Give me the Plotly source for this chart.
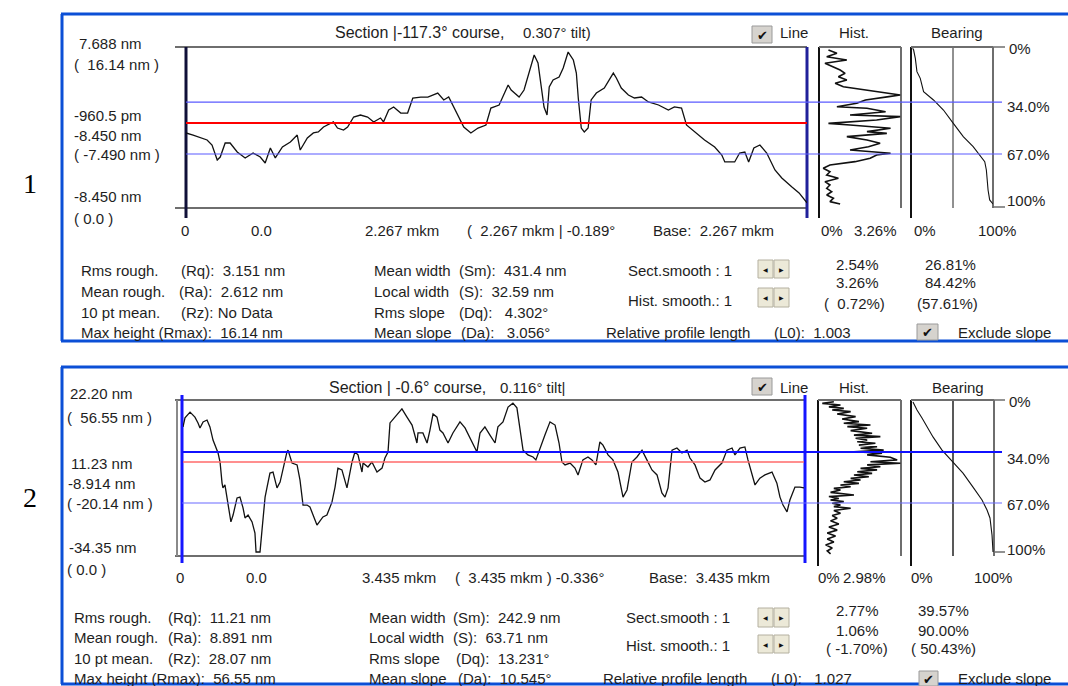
import plotly.graph_objects as go

W, H = 1068, 686

# ---------------- Section 1 profile (distance in nm, height in nm)
sec1_x = [0, 26, 77, 95, 114, 125, 143, 161, 187, 216,
          245, 271, 289, 308, 326, 352, 381, 406, 417, 443,
          465, 483, 502, 516, 538, 553, 575, 590, 612, 637,
          663, 685, 710, 721, 740, 758, 784, 809, 828, 857,
          883, 919, 941, 959, 978, 1003, 1014, 1040, 1066, 1095,
          1113, 1143, 1161, 1176, 1187, 1216, 1234, 1252, 1271, 1285,
          1296, 1307, 1318, 1326, 1340, 1362, 1377, 1395, 1414, 1425,
          1432, 1443, 1454, 1468, 1479, 1498, 1527, 1545, 1560, 1571,
          1589, 1615, 1637, 1663, 1688, 1725, 1761, 1783, 1809, 1827,
          1857, 1893, 1930, 1956, 1967, 2003, 2021, 2040, 2054, 2073,
          2095, 2120, 2150, 2175, 2212, 2238, 2267]
sec1_z = [-1.05, -1.27, -1.79, -2.32, -3.90, -3.59, -2.11, -2.11, -3.06, -3.69,
          -3.17, -3.59, -4.22, -2.64, -3.69, -2.53, -2.00, -1.27, -2.85, -1.58,
          -1.05, -0.95, -0.42, -0.21, 0.11, -0.53, -0.74, -0.42, 0.63, 0.84,
          0.63, 0.11, 0.53, 0.11, 1.37, 1.69, 1.05, 1.05, 2.64, 2.74,
          2.74, 3.16, 2.43, 2.74, 1.69, 0.32, -0.42, -1.05, -0.53, -0.21,
          1.58, 1.90, 3.16, 4.01, 3.48, 2.74, 3.48, 5.38, 7.17, 6.33,
          3.80, 1.69, 0.84, 3.80, 4.54, 4.85, 5.80, 7.49, 6.65, 5.27,
          2.64, -0.53, -0.95, -0.53, 2.43, 3.16, 3.69, 4.54, 5.27, 4.75,
          3.69, 2.95, 2.64, 2.74, 2.22, 1.90, 1.37, 1.69, 1.58, -0.21,
          -0.95, -1.79, -2.53, -3.38, -4.11, -4.11, -3.17, -3.06, -4.11, -2.64,
          -2.32, -3.17, -4.96, -5.80, -6.75, -7.38, -8.43]

# Section 1 height histogram (height nm -> frequency %)
hist1_z = [7.70, 7.35, 7.00, 6.65, 6.30, 5.94, 5.59, 5.24, 4.89, 4.54,
           4.19, 3.83, 3.48, 2.95, 2.78, 2.43, 2.08, 1.72, 1.55, 1.19,
           0.84, 0.67, 0.32, -0.04, -0.21, -0.56, -0.91, -1.09, -1.44, -1.79,
           -2.14, -2.50, -2.85, -3.20, -3.38, -3.72, -4.08, -4.43, -4.78, -5.14,
           -5.49, -5.83, -6.19, -6.54, -6.89, -7.25, -7.60, -7.94, -8.30, -8.55]
hist1_f = [0.34, 0.68, 0.27, 1.08, 0.20, 0.54, 0.81, 1.01, 0.74, 1.08,
           0.61, 0.94, 1.89, 3.23, 2.77, 1.83, 1.48, 0.68, 1.89, 2.64,
           1.21, 3.23, 2.28, 0.34, 1.21, 2.84, 1.89, 2.69, 1.08, 1.89,
           2.42, 1.95, 1.21, 2.84, 2.28, 2.02, 1.41, 0.40, 0.13, 0.40,
           0.27, 0.74, 0.20, 0.40, 0.27, 0.47, 0.27, 0.54, 0.40, 0.81]
hist1_max = 3.26

# Section 1 bearing ratio curve (percent -> height nm)
bear1_p = [0.8, 2.0, 4.1, 6.1, 10.2, 14.3, 26.5, 38.8, 51.0, 63.3, 75.5, 83.7, 89.8, 91.8, 93.9, 95.9, 100]
bear1_z = [7.88, 7.70, 6.82, 5.42, 4.71, 3.31, 2.43, 1.37, -0.04, -1.44, -2.50, -3.38, -4.08, -4.96, -7.07, -8.12, -8.55]

# ---------------- Section 2 profile
sec2_x = [0, 11, 39, 66, 83, 94, 111, 133, 149, 166,
          194, 205, 216, 221, 232, 249, 265, 277, 299, 315,
          332, 343, 360, 382, 398, 404, 426, 437, 454, 465,
          481, 498, 520, 537, 553, 575, 581, 603, 631, 647,
          664, 686, 702, 741, 774, 796, 824, 841, 857, 879,
          907, 924, 935, 951, 968, 990, 996, 1023, 1045, 1073,
          1101, 1117, 1134, 1145, 1184, 1211, 1239, 1267, 1294, 1300,
          1327, 1350, 1366, 1383, 1405, 1421, 1438, 1466, 1493, 1532,
          1560, 1598, 1626, 1643, 1670, 1698, 1726, 1742, 1770, 1798,
          1825, 1847, 1881, 1908, 1936, 1952, 1975, 2002, 2030, 2058,
          2080, 2096, 2113, 2141, 2168, 2185, 2212, 2240, 2262, 2284,
          2306, 2323, 2351, 2378, 2406, 2434, 2456, 2483, 2511, 2539,
          2566, 2594, 2622, 2649, 2666, 2683, 2705, 2732, 2760, 2788,
          2804, 2832, 2860, 2887, 2915, 2943, 2981, 3009, 3037, 3053,
          3081, 3108, 3125, 3164, 3191, 3219, 3258, 3285, 3302, 3319,
          3341, 3357, 3385, 3413, 3435]
sec2_z = [13.3, 16.7, 18.9, 17.0, 14.8, 12.9, 15.2, 15.9, 13.3, 8.3,
          3.4, 0.0, -8.0, -9.8, -8.7, -15.5, -22.7, -20.1, -13.6, -13.3,
          -17.4, -21.2, -20.1, -22.7, -26.9, -34.1, -34.1, -25.8, -13.3, -9.5,
          -4.2, -3.8, -9.8, -7.6, -2.3, 3.8, 4.5, -0.4, -1.1, -6.8,
          -16.3, -16.3, -17.0, -23.9, -20.8, -20.1, -15.2, -9.5, -2.3, -3.0,
          -9.8, -3.0, 0.0, 3.8, 2.7, -3.8, -0.4, -1.9, 0.0, -3.8,
          -2.3, 1.5, 3.8, 14.8, 17.8, 20.1, 17.0, 14.0, 7.2, 11.0,
          11.0, 7.2, 12.1, 18.2, 17.0, 12.1, 11.0, 7.2, 11.0, 15.2,
          12.9, 7.6, 3.8, 11.0, 13.3, 10.2, 7.2, 13.3, 15.2, 20.8,
          22.3, 20.5, 4.5, 2.7, 1.9, 0.8, 5.3, 10.2, 15.2, 14.0,
          7.2, 0.0, -1.1, -0.4, -2.3, -4.9, 0.8, 1.9, 0.8, -1.1,
          7.6, 6.4, 2.7, 0.8, -3.8, -13.3, -10.6, 0.0, 1.9, 4.5,
          0.8, -3.0, -4.9, -11.7, -13.3, -9.8, 4.5, 5.3, 3.4, 4.5,
          1.5, -1.1, -6.1, -7.6, -6.8, -3.0, -0.4, 4.5, 5.3, 2.7,
          5.3, 5.7, 0.8, -8.7, -6.1, -4.9, -3.8, -8.0, -13.3, -16.3,
          -18.9, -14.4, -9.5, -9.5, -9.8]

hist2_z = [22.8, 22.2, 21.6, 20.9, 20.3, 19.7, 19.1, 18.2, 17.2, 16.3,
           15.3, 14.7, 14.0, 13.4, 12.8, 11.9, 10.9, 10.2, 9.6, 9.0,
           8.3, 7.7, 7.1, 6.4, 5.8, 5.2, 4.5, 3.9, 3.3, 2.7,
           1.8, 0.8, 0.1, -0.5, -1.1, -1.8, -2.4, -3.0, -3.7, -4.3,
           -4.9, -5.6, -6.2, -6.8, -7.5, -8.1, -8.7, -9.4, -10.0, -10.6,
           -11.5, -12.5, -13.1, -13.8, -14.4, -15.0, -15.6, -16.3, -16.9, -17.5,
           -18.4, -19.4, -20.3, -21.3, -22.3, -23.5, -24.6, -25.8, -26.9, -28.0,
           -29.2, -30.3, -31.4, -32.6, -33.7, -34.8]
hist2_f = [0.54, 0.12, 0.78, 0.36, 0.90, 0.48, 1.15, 0.66, 1.33, 0.84,
           1.45, 0.90, 1.87, 1.03, 1.75, 1.15, 1.93, 1.27, 2.23, 1.33,
           1.75, 1.39, 2.05, 1.45, 2.11, 1.51, 2.35, 1.27, 2.29, 1.75,
           2.59, 2.84, 1.87, 2.96, 1.75, 2.23, 1.51, 2.11, 1.39, 1.93,
           1.27, 1.81, 1.15, 1.51, 0.90, 1.45, 0.78, 1.15, 0.54, 0.78,
           0.42, 1.27, 0.36, 0.72, 0.42, 0.90, 0.48, 0.78, 0.54, 1.15,
           0.54, 0.78, 0.48, 0.66, 0.42, 0.72, 0.36, 0.66, 0.30, 0.60,
           0.30, 0.54, 0.24, 0.48, 0.30, 0.42]
hist2_max = 2.98

bear2_p = [1.2, 6.1, 12.2, 18.3, 25.6, 36.6, 50.0, 62.2, 74.4, 85.4, 91.5, 95.1, 97.6, 98.8]
bear2_z = [22.7, 19.7, 16.7, 13.3, 9.5, 4.5, 0.0, -4.2, -9.5, -14.4, -18.2, -21.2, -27.7, -34.1]

# cursor levels (nm): upper, mean, lower
cur1 = [2.21, 0.0, -3.27]
cur2 = [3.79, 0.0, -15.53]

FONT = "Liberation Sans"
TXT = "#1e1e1e"
NB = "\u00a0"


def dx(a, b):
    return [a / W, b / W]


def dy(top, bottom):
    return [1 - bottom / H, 1 - top / H]


fig = go.Figure()

# axes: 1-3 section 1 (profile, hist, bearing), 4-6 section 2
axes = [
    (dx(186, 807), dy(47, 208), [0, 2267], [-8.97, 8.02]),
    (dx(820, 901), dy(47, 208), [0, hist1_max], [-8.97, 8.02]),
    (dx(912, 993), dy(47, 208), [0, 100], [-8.97, 8.02]),
    (dx(183, 804), dy(400, 556), [0, 3435], [-35.61, 23.49]),
    (dx(819, 901), dy(400, 556), [0, hist2_max], [-35.61, 23.49]),
    (dx(912, 994), dy(400, 556), [0, 100], [-35.61, 23.49]),
]
lay = {}
for i, (xd, yd, xr, yr) in enumerate(axes, start=1):
    s = "" if i == 1 else str(i)
    lay["xaxis" + s] = dict(domain=xd, range=xr, visible=False, anchor="y" + s)
    lay["yaxis" + s] = dict(domain=yd, range=yr, visible=False, anchor="x" + s)

line_k = dict(color="#111111", width=1.3)
fig.add_trace(go.Scatter(x=sec1_x, y=sec1_z, mode="lines", line=line_k, xaxis="x", yaxis="y"))
fig.add_trace(go.Scatter(x=hist1_f, y=hist1_z, mode="lines", line=dict(color="#111111", width=1.6), xaxis="x2", yaxis="y2"))
fig.add_trace(go.Scatter(x=bear1_p, y=bear1_z, mode="lines", line=dict(color="#111111", width=1.1), xaxis="x3", yaxis="y3"))
fig.add_trace(go.Scatter(x=sec2_x, y=sec2_z, mode="lines", line=line_k, xaxis="x4", yaxis="y4"))
fig.add_trace(go.Scatter(x=hist2_f, y=hist2_z, mode="lines", line=dict(color="#111111", width=1.6), xaxis="x5", yaxis="y5"))
fig.add_trace(go.Scatter(x=bear2_p, y=bear2_z, mode="lines", line=dict(color="#111111", width=1.1), xaxis="x6", yaxis="y6"))

shapes = []


def L(x0, y0, x1, y1, color, width=1):
    shapes.append(dict(type="line", xref="paper", yref="paper",
                       x0=x0 / W, y0=1 - y0 / H, x1=x1 / W, y1=1 - y1 / H,
                       line=dict(color=color, width=width), layer="below"))


def R(x0, y0, x1, y1, fill, edge, layer="below"):
    shapes.append(dict(type="rect", xref="paper", yref="paper",
                       x0=x0 / W, y0=1 - y1 / H, x1=x1 / W, y1=1 - y0 / H,
                       fillcolor=fill, line=dict(color=edge, width=1), layer=layer))


def HL(yref, level, x0px, x1px, color, width):
    shapes.append(dict(type="line", xref="paper", yref=yref,
                       x0=x0px / W, x1=x1px / W, y0=level, y1=level,
                       line=dict(color=color, width=width), layer="above"))


ann = []


def T(px, py, s, xa="left", size=15, color=TXT, fam=FONT):
    ann.append(dict(x=px / W, y=1 - py / H, xref="paper", yref="paper", text=s,
                    showarrow=False, xanchor=xa, yanchor="middle",
                    font=dict(family=fam, size=size, color=color)))


def checkbox(x0, y0, x1, y1):
    R(x0, y0, x1, y1, "#d6d3ce", "#9a9a9a")
    T((x0 + x1) / 2, (y0 + y1) / 2 + 1, "✔", xa="center", size=13, color="#111111", fam="DejaVu Sans")


def spin(x0, y0, y1):
    R(x0, y0, x0 + 15, y1, "#ece9d8", "#b4b0a0")
    R(x0 + 16, y0, x0 + 31, y1, "#ece9d8", "#b4b0a0")
    T(x0 + 7.5, (y0 + y1) / 2, "◀", xa="center", size=6, color="#111111", fam="DejaVu Sans")
    T(x0 + 23.5, (y0 + y1) / 2, "▶", xa="center", size=6, color="#111111", fam="DejaVu Sans")


BLUE_FRAME = "#0b4fd6"
GRAY = "#6e6e6e"

# ---------- panel borders
for top, bot in [(14, 341), (367, 684)]:
    L(61, top, W, top, BLUE_FRAME, 3)
    L(62, top, 62, bot, BLUE_FRAME, 3)
    L(61, bot, W, bot, BLUE_FRAME, 3)

# ---------- section 1 frames
L(175, 47, 807, 47, GRAY, 2)
L(175, 208, 807, 208, GRAY, 2)
L(186, 47, 186, 218, "#101038", 3)
L(807, 47, 807, 218, "#20209a", 3)
L(819, 47, 819, 218, "#111111", 2)
L(901, 47, 901, 208, GRAY, 2)
L(819, 47, 901, 47, GRAY, 2)
L(911, 47, 911, 218, "#111111", 2)
L(953, 47, 953, 208, "#222222", 1)
L(993, 47, 993, 208, GRAY, 2)
L(911, 47, 993, 47, GRAY, 2)
L(993, 47, 1005, 47, GRAY, 1.5)
L(993, 207, 1005, 207, GRAY, 1.5)

HL("y", cur1[0], 186, 1002, "#5a5aff", 1.2)
HL("y", cur1[2], 186, 1002, "#5a5aff", 1.2)
shapes.append(dict(type="line", xref="x", yref="y", x0=sec1_x[0], x1=sec1_x[-1],
                   y0=cur1[1], y1=cur1[1], line=dict(color="#ff0000", width=2), layer="above"))

# ---------- section 2 frames
L(175, 400, 805, 400, GRAY, 2)
L(175, 556, 805, 556, GRAY, 2)
L(177, 400, 177, 556, "#8a8a8a", 2)
L(182, 395, 182, 563, "#1515ff", 3)
L(805, 395, 805, 563, "#1515ff", 3)
L(818, 400, 818, 566, "#111111", 2)
L(901, 400, 901, 556, GRAY, 2)
L(818, 400, 901, 400, GRAY, 2)
L(911, 400, 911, 566, "#111111", 2)
L(953, 400, 953, 556, "#222222", 1.5)
L(994, 400, 994, 556, GRAY, 2)
L(911, 400, 994, 400, GRAY, 2)
L(994, 400, 1005, 400, GRAY, 1.5)
L(994, 552, 1005, 552, GRAY, 1.5)

HL("y4", cur2[0], 182, 1002, "#1010ff", 2)
HL("y4", cur2[2], 182, 1002, "#6a6aff", 1.2)
shapes.append(dict(type="line", xref="x4", yref="y4", x0=sec2_x[0], x1=sec2_x[-1],
                   y0=cur2[1], y1=cur2[1], line=dict(color="#ff6a6a", width=1.3), layer="above"))

# ---------- section 1 texts
T(30, 183, "1", xa="center", size=28, color="#000000", fam="Liberation Serif")
T(333, 33, "Section |-117.3° course,", size=16)
T(521, 33, "0.307° tilt)", size=15)
checkbox(752, 26, 772, 43)
T(778, 33, "Line")
T(837, 33, "Hist.")
T(929, 33, "Bearing")
T(77, 43, "7.688 nm")
T(72, 65, "(" + NB + " 16.14 nm )")
T(72, 115, "-960.5 pm")
T(72, 135, "-8.450 nm")
T(72, 155, "( -7.490 nm )")
T(72, 197, "-8.450 nm")
T(72, 218, "( 0.0 )")
T(1007, 48, "0%")
T(1005, 107, "34.0%")
T(1005, 154, "67.0%")
T(1005, 200, "100%")
T(185, 230, "0", xa="center")
T(261, 230, "0.0", xa="center")
T(402, 230, "2.267 mkm", xa="center")
T(465, 230, "(" + NB + " 2.267 mkm | -0.189°")
T(651, 230, "Base:" + NB + " 2.267 mkm")
T(819, 230, "0%")
T(852, 230, "3.26%")
T(912, 230, "0%")
T(976, 230, "100%")

rows1 = [270, 292, 312, 333]
T(79, rows1[0], "Rms rough.")
T(79, rows1[1], "Mean rough.")
T(79, rows1[2], "10 pt mean.")
T(79, rows1[3], "Max height (Rmax):" + NB + " 16.14 nm")
T(179, rows1[0], "(Rq):" + NB + " 3.151 nm")
T(177, rows1[1], "(Ra):" + NB + " 2.612 nm")
T(179, rows1[2], "(Rz): No Data")
T(372, rows1[0], "Mean width")
T(372, rows1[1], "Local width")
T(372, rows1[2], "Rms slope")
T(372, rows1[3], "Mean slope")
T(457, rows1[0], "(Sm):" + NB + " 431.4 nm")
T(457, rows1[1], "(S):" + NB + " 32.59 nm")
T(457, rows1[2], "(Dq):" + NB + NB + " 4.302°")
T(459, rows1[3], "(Da):" + NB + NB + " 3.056°")
T(626, 270, "Sect.smooth : 1")
T(626, 300, "Hist. smooth.: 1")
spin(758, 260, 278)
spin(758, 288, 307)
T(604, 333, "Relative profile length")
T(772, 333, "(L0):" + NB + " 1.003")
T(857, 265, "2.54%", xa="center")
T(857, 283, "3.26%", xa="center")
T(854, 303, "(" + NB + " 0.72%)", xa="center")
T(950, 265, "26.81%", xa="center")
T(950, 283, "84.42%", xa="center")
T(947, 303, "(57.61%)", xa="center")
checkbox(917, 324, 938, 340)
T(956, 333, "Exclude slope")

# ---------- section 2 texts
T(30, 497, "2", xa="center", size=28, color="#000000", fam="Liberation Serif")
T(327, 387, "Section | -0.6° course,", size=16)
T(498, 387, "0.116° tilt|", size=15)
checkbox(752, 378, 772, 395)
T(778, 387, "Line")
T(837, 387, "Hist.")
T(930, 387, "Bearing")
T(68, 393, "22.20 nm")
T(65, 417, "(" + NB + " 56.55 nm )")
T(69, 463, "11.23 nm")
T(66, 483, "-8.914 nm")
T(65, 503, "( -20.14 nm )")
T(67, 547, "-34.35 nm")
T(65, 569, "( 0.0 )")
T(1007, 401, "0%")
T(1005, 458, "34.0%")
T(1005, 504, "67.0%")
T(1005, 549, "100%")
T(180, 577, "0", xa="center")
T(256, 577, "0.0", xa="center")
T(399, 577, "3.435 mkm", xa="center")
T(453, 577, "(" + NB + " 3.435 mkm ) -0.336°")
T(647, 577, "Base:" + NB + " 3.435 mkm")
T(816, 577, "0%")
T(841, 577, "2.98%")
T(909, 577, "0%")
T(972, 577, "100%")

rows2 = [617, 637, 658, 678]
T(72, rows2[0], "Rms rough.")
T(72, rows2[1], "Mean rough.")
T(72, rows2[2], "10 pt mean.")
T(72, rows2[3], "Max height (Rmax):" + NB + " 56.55 nm")
T(166, rows2[0], "(Rq):" + NB + " 11.21 nm")
T(166, rows2[1], "(Ra):" + NB + " 8.891 nm")
T(166, rows2[2], "(Rz):" + NB + " 28.07 nm")
T(367, rows2[0], "Mean width")
T(367, rows2[1], "Local width")
T(367, rows2[2], "Rms slope")
T(367, rows2[3], "Mean slope")
T(451, rows2[0], "(Sm):" + NB + " 242.9 nm")
T(451, rows2[1], "(S):" + NB + " 63.71 nm")
T(454, rows2[2], "(Dq):" + NB + " 13.231°")
T(456, rows2[3], "(Da):" + NB + " 10.545°")
T(624, 617, "Sect.smooth : 1")
T(624, 645, "Hist. smooth.: 1")
spin(758, 608, 627)
spin(758, 635, 653)
T(601, 678, "Relative profile length")
T(769, 678, "(L0):" + NB + NB + " 1.027")
T(857, 610, "2.77%", xa="center")
T(857, 630, "1.06%", xa="center")
T(857, 648, "( -1.70%)", xa="center")
T(943, 610, "39.57%", xa="center")
T(943, 630, "90.00%", xa="center")
T(943, 648, "( 50.43%)", xa="center")
checkbox(919, 671, 938, 686)
T(956, 678, "Exclude slope")

fig.update_layout(
    width=W, height=H, margin=dict(l=0, r=0, t=0, b=0),
    paper_bgcolor="white", plot_bgcolor="white", showlegend=False,
    shapes=shapes, annotations=ann, **lay,
)
fig.write_html("out.html")
